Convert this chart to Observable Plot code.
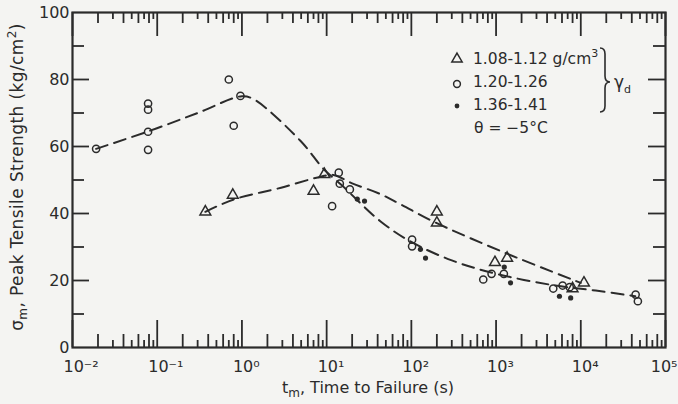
<!DOCTYPE html>
<html><head><meta charset="utf-8">
<script src="https://cdn.jsdelivr.net/npm/d3@7"></script>
<script src="https://cdn.jsdelivr.net/npm/@observablehq/plot@0.6"></script>
<style>
html,body{margin:0;padding:0;background:#f4f4f2;}
#chart{position:relative;width:678px;height:404px;overflow:hidden;}
</style></head><body><div id="chart"></div>
<script>
// ---- data (time to failure in s, peak tensile strength in kg/cm^2) ----
const triTime = [0.37, 0.78, 7.0, 9.4, 200, 200, 970, 1350, 8000, 10900];
const triStrength = [40.5, 45.5, 46.7, 51.7, 40.5, 37.2, 25.4, 26.7, 17.6, 19.3];

const circTime = [0.019, 0.078, 0.078, 0.078, 0.078, 0.70, 0.80, 0.96, 11.6, 13.9, 14.3, 18.8, 102, 102, 706, 885, 1236, 4730, 6100, 7400, 44400, 47200];
const circStrength = [59.3, 72.8, 71.0, 64.4, 59.0, 80.0, 66.2, 75.1, 42.2, 52.2, 48.9, 47.2, 32.2, 30.2, 20.3, 22.0, 22.0, 17.6, 18.5, 18.0, 15.8, 13.8];

const dotTime = [23, 28, 128, 147, 1250, 1480, 5600, 7600];
const dotStrength = [44.3, 43.7, 29.3, 26.7, 24.0, 19.3, 15.3, 14.8];

// dashed fitted curves
const curveATime = [0.019, 0.078, 0.3, 1.0, 1.4, 4.9, 9.2, 15, 43, 100, 300, 1000, 5000, 15000, 44000];
const curveAStrength = [59.3, 64.5, 70, 75, 74, 61.7, 53.3, 48.5, 37.7, 31.5, 26, 22, 18.5, 17, 15.3];
const curveBTime = [0.37, 0.8, 2.9, 8.5, 12, 20, 43, 75, 185, 1350, 10000];
const curveBStrength = [40.5, 44.2, 47.7, 51, 51.5, 49, 45.8, 42.7, 37.5, 28, 19.3];

const xTicks = [1e-2, 1e-1, 1e0, 1e1, 1e2, 1e3, 1e4, 1e5];
const xTickLabels = ["10⁻²", "10⁻¹", "10⁰", "10¹", "10²", "10³", "10⁴", "10⁵"];
const yTicks = [0, 20, 40, 60, 80, 100];
const yMinorTicks = [10, 30, 50, 70, 90];
const legendLabels = ["1.08-1.12 g/cm", "1.20-1.26", "1.36-1.41"];

// ---- layout ----
const W = 678, H = 404, mL = 72, mR = 13, mT = 12, mB = 57;
const plotW = W - mL - mR, plotH = H - mT - mB;
const ink = "#2b2b2b";

const minorLong = [], minorShort = [];
for (let d = -2; d <= 4; d++) {
  for (let k = 2; k <= 9; k++) {
    const v = k * Math.pow(10, d);
    (k % 2 === 0 ? minorLong : minorShort).push(v);
  }
}
const yMajorInner = [20, 40, 60, 80];

const triData = triTime.map((t, i) => ({t, s: triStrength[i]}));
const circData = circTime.map((t, i) => ({t, s: circStrength[i]}));
const dotData = dotTime.map((t, i) => ({t, s: dotStrength[i]}));
const curveA = curveATime.map((t, i) => ({t, s: curveAStrength[i]}));
const curveB = curveBTime.map((t, i) => ({t, s: curveBStrength[i]}));

const fmtX = d => xTickLabels[xTicks.findIndex(v => Math.abs(Math.log10(v) - Math.log10(d)) < 1e-6)];
const sw = 1.8;
const chart = Plot.plot({
  width: W, height: H,
  marginLeft: mL, marginRight: mR, marginTop: mT, marginBottom: mB,
  style: {fontFamily: "DejaVu Sans", fontSize: "15px", color: ink, background: "transparent"},
  x: {type: "log", domain: [1e-2, 1e5]},
  y: {domain: [0, 100]},
  marks: [
    // bottom ticks (inward)
    Plot.tickX(xTicks, {x: d => d, insetTop: plotH - 27, stroke: ink, strokeWidth: sw}),
    Plot.tickX(minorLong, {x: d => d, insetTop: plotH - 13, stroke: ink, strokeWidth: sw}),
    Plot.tickX(minorShort, {x: d => d, insetTop: plotH - 7, stroke: ink, strokeWidth: sw}),
    // top ticks (inward)
    Plot.tickX(xTicks, {x: d => d, insetBottom: plotH - 24, stroke: ink, strokeWidth: sw}),
    Plot.tickX(minorLong, {x: d => d, insetBottom: plotH - 11, stroke: ink, strokeWidth: sw}),
    Plot.tickX(minorShort, {x: d => d, insetBottom: plotH - 7, stroke: ink, strokeWidth: sw}),
    // left ticks
    Plot.tickY(yMajorInner, {y: d => d, insetRight: plotW - 17, stroke: ink, strokeWidth: sw}),
    Plot.tickY(yMinorTicks, {y: d => d, insetRight: plotW - 12, stroke: ink, strokeWidth: sw}),
    // right ticks
    Plot.tickY(yMajorInner, {y: d => d, insetLeft: plotW - 17, stroke: ink, strokeWidth: sw}),
    Plot.tickY(yMinorTicks, {y: d => d, insetLeft: plotW - 12, stroke: ink, strokeWidth: sw}),
    Plot.frame({stroke: ink, strokeWidth: 2.2}),
    // curves
    Plot.line(curveA, {x: "t", y: "s", curve: "catmull-rom", stroke: ink, strokeWidth: 2, strokeDasharray: "12,7"}),
    Plot.line(curveB, {x: "t", y: "s", curve: "catmull-rom", stroke: ink, strokeWidth: 2, strokeDasharray: "12,7"}),
    // points
    Plot.dot(triData, {x: "t", y: "s", symbol: "triangle", r: 4, stroke: ink, strokeWidth: 1.5, fill: "none"}),
    Plot.dot(circData, {x: "t", y: "s", r: 3.6, stroke: ink, strokeWidth: 1.5, fill: "none"}),
    Plot.dot(dotData, {x: "t", y: "s", r: 2.6, fill: ink, stroke: "none"}),
    // axes labels
    Plot.axisX({ticks: xTicks.slice(0, -1), tickSize: 0, tickPadding: 13, label: null, dx: -9, textAnchor: "start",
      tickFormat: fmtX, fontSize: 16}),
    Plot.axisX({ticks: xTicks.slice(-1), tickSize: 0, tickPadding: 13, label: null, dx: 12, textAnchor: "end",
      tickFormat: fmtX, fontSize: 16}),
    Plot.axisY({ticks: yTicks, tickSize: 0, tickPadding: 3, label: null, fontSize: 16})
  ]
});
document.getElementById("chart").appendChild(chart);

// ---- annotations: axis titles and legend ----
const svg = d3.select(chart);
const g = svg.append("g").attr("fill", ink).attr("font-family", "DejaVu Sans").attr("text-anchor", "start");

// y title
const yt = g.append("text")
  .attr("transform", "translate(23,177) rotate(-90)")
  .attr("text-anchor", "middle").attr("font-size", 17).attr("letter-spacing", 0.4);
yt.append("tspan").text("σ");
yt.append("tspan").attr("font-size", 12).attr("dy", 4).text("m");
yt.append("tspan").attr("dy", -4).text(", Peak Tensile Strength (kg/cm");
yt.append("tspan").attr("font-size", 12).attr("dy", -7).text("2");
yt.append("tspan").attr("dy", 7).text(")");

// x title
const xt = g.append("text").attr("x", 368).attr("y", 393)
  .attr("text-anchor", "middle").attr("font-size", 16);
xt.append("tspan").text("t");
xt.append("tspan").attr("font-size", 12).attr("dy", 4).text("m");
xt.append("tspan").attr("dy", -4).text(", Time to Failure (s)");

// legend
const lx = 457, rows = [59, 82, 105];
g.append("path").attr("transform", `translate(${lx},${rows[0]})`)
  .attr("d", d3.symbol(d3.symbolTriangle, 46)()).attr("fill", "none").attr("stroke", ink).attr("stroke-width", 1.5);
g.append("circle").attr("cx", lx).attr("cy", rows[1] + 2).attr("r", 3.4).attr("fill", "none").attr("stroke", ink).attr("stroke-width", 1.5);
g.append("circle").attr("cx", lx).attr("cy", rows[2] + 1).attr("r", 2.4).attr("fill", ink);
legendLabels.forEach((lab, i) => {
  const t = g.append("text").attr("x", 473).attr("y", rows[i]).attr("dy", "0.35em").attr("font-size", 15.5).text(lab);
  if (i === 0) t.append("tspan").attr("font-size", 11).attr("dy", -7).text("3");
});
g.append("text").attr("x", 474).attr("y", 128).attr("dy", "0.35em").attr("font-size", 15.5).text("θ = −5°C");
g.append("path")
  .attr("d", "M600,48 Q605,48 605,54 L605,76 Q605,82 610,82 Q605,82 605,88 L605,106 Q605,112 600,112")
  .attr("fill", "none").attr("stroke", ink).attr("stroke-width", 1.6);
const gd = g.append("text").attr("x", 614).attr("y", 82).attr("dy", "0.35em").attr("font-size", 17);
gd.append("tspan").text("γ");
gd.append("tspan").attr("font-size", 11).attr("dy", 5).text("d");
</script>
</body></html>
